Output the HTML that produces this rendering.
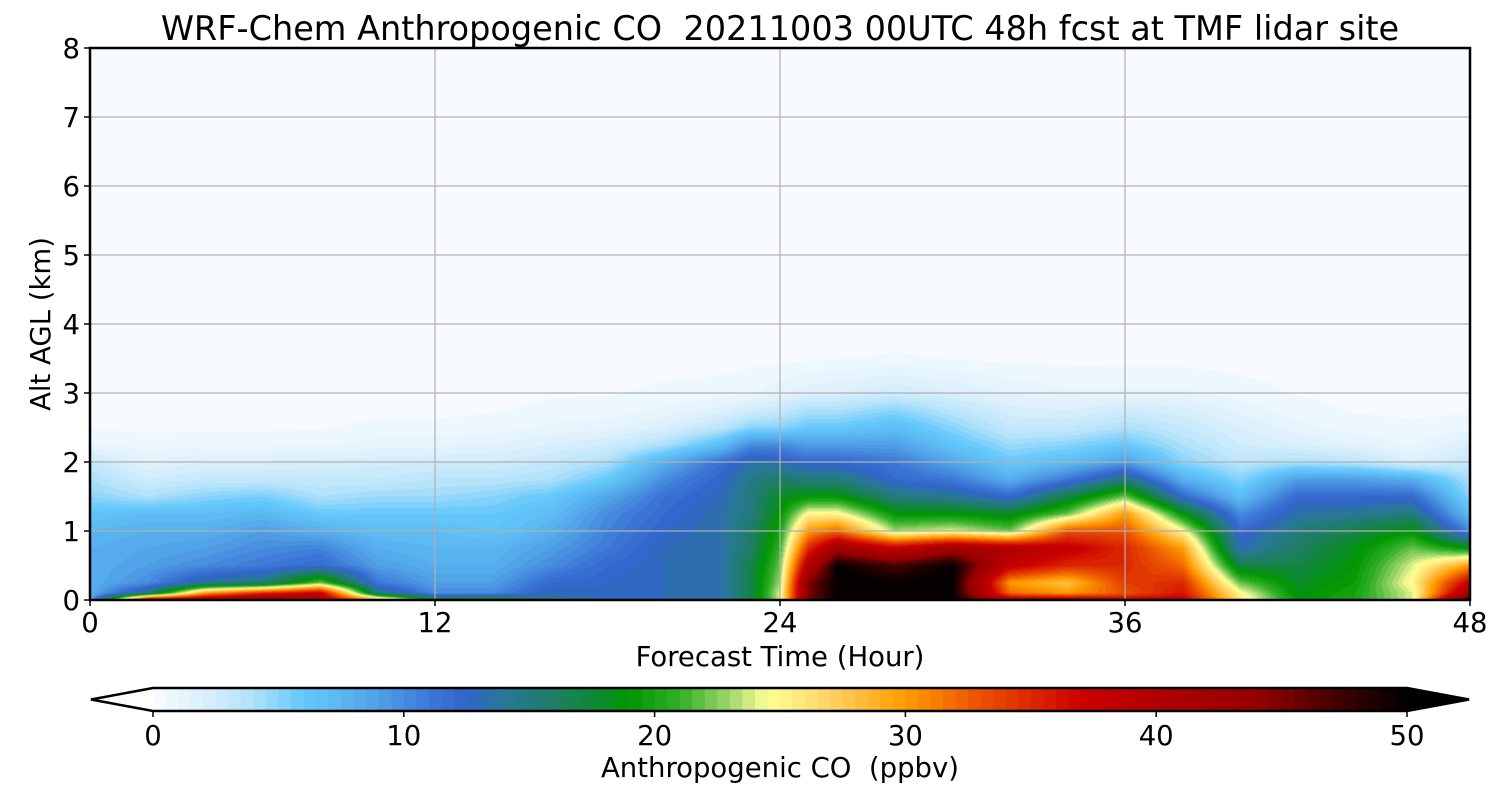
<!DOCTYPE html>
<html><head><meta charset="utf-8">
<style>
html,body{margin:0;padding:0;background:#fff;width:1500px;height:800px;overflow:hidden}
#wrap{position:relative;width:1500px;height:800px;font-family:"DejaVu Sans","Liberation Sans",sans-serif}
#field{position:absolute;left:90px;top:48px}
#svg{position:absolute;left:0;top:0}
text{font-family:"DejaVu Sans","Liberation Sans",sans-serif;fill:#000;white-space:pre}
</style></head>
<body>
<div id="wrap">
<canvas id="field" width="1380" height="552"></canvas>
<svg id="svg" width="1500" height="800">
  <text x="780" y="40" font-size="33.5" text-anchor="middle" xml:space="preserve">WRF-Chem Anthropogenic CO  20211003 00UTC 48h fcst at TMF lidar site</text>
  <g id="grid"></g>
  <rect x="90" y="48" width="1380" height="552" fill="none" stroke="#000" stroke-width="2.5"/>
  <g id="yticks"></g>
  <g id="xticks"></g>
  <text x="0" y="0" font-size="27.5" text-anchor="middle" transform="translate(50,324) rotate(-90)">Alt AGL (km)</text>
  <text x="780" y="666" font-size="27.5" text-anchor="middle">Forecast Time (Hour)</text>
  <g id="cbar"></g>
  <text x="780" y="777" font-size="27.5" text-anchor="middle" xml:space="preserve">Anthropogenic CO  (ppbv)</text>
</svg>
</div>
<script>
const hours = [0,2,4,6,8,10,12,14,16,18,20,22,23,24,25,26,28,30,32,34,36,38,40,42,44,46,48];
const altitudes = [0,0.1,0.25,0.5,0.75,1,1.25,1.5,1.75,2,2.25,2.5,2.75,3,3.5,4];
const coValues = [
[8,8,8,8,8,7.5,6.5,5,4,3,1.0,0.4,0.35,0.3,0.3,0.3],
[40,15,10,9,8.5,8,7,4,2.5,1.5,0.7,0.4,0.35,0.3,0.3,0.3],
[42,30,14,10,9,8,7,5,3,2,0.8,0.4,0.35,0.3,0.3,0.3],
[45,35,15,11,10,9,7.5,5.5,3,2,0.8,0.4,0.35,0.3,0.3,0.3],
[40,38,22,12,10.5,8,6,4,3,2.2,0.9,0.45,0.35,0.3,0.3,0.3],
[30,15,11,9,8,7,6,4.5,3,2.3,1.2,0.6,0.4,0.35,0.3,0.3],
[18,10,9,8,7.5,7,6,4.5,3.5,2.5,1.3,0.6,0.4,0.35,0.3,0.3],
[19,10,9,8,7.5,6.5,6,5,3.5,2.5,1.5,0.7,0.45,0.35,0.3,0.3],
[14,13,12,10,9,8,7,6,4,3,2,1.1,0.6,0.45,0.3,0.3],
[13,12.5,12.5,12,11,10.5,10,8.5,6,4,2.5,1.3,0.7,0.45,0.3,0.3],
[13,13,13,13,13,12.5,12,11.5,10,8,4,2,1.1,0.6,0.3,0.3],
[13.5,13.5,13.5,13.5,13.5,13.5,13.5,13,12.5,11.5,7,3.5,1.7,0.7,0.3,0.3],
[17,17,17,17,16,16,15,15,14.5,13.5,10,5,2.5,0.9,0.35,0.3],
[24,24,23,22,21,20,19,18,16,13,10,5,3,1.3,0.35,0.3],
[45,45,45,40,35,30,25,19,15,12,9,6,4,1.8,0.4,0.3],
[50,50,50,50,42,32,25,19,15,12,9,6,4,2,0.45,0.3],
[50,50,50,47,38,23,19,15,12,11,9,7,5,2.5,0.55,0.3],
[50,50,50,50,42,24,19,14,11,8.5,6.5,5,3.5,2,0.45,0.3],
[40,32,30,38,40,22,18,12,8,6,4.5,3,2.2,1.4,0.35,0.3],
[40,30,28,35,38,33,22,17,11,7,5,3,2,1.1,0.35,0.3],
[38,33,34,35,35,33,30,22,15,9,6,4,2.5,1.1,0.3,0.3],
[38,36,35,32,30,25,19,12,8,5,4,3,2.2,1.1,0.3,0.3],
[26,25,22,17,13,12,10,7,5,3.5,2.5,2,1.3,0.7,0.3,0.3],
[19,18.5,18,17,16,15,13.5,12,9,4,2,1.2,0.7,0.45,0.3,0.3],
[20,20,19.5,19,18.5,17,14,12,9,3.5,1.5,0.7,0.45,0.35,0.3,0.3],
[24,24,25,24,22,19,15,12,8,2,0.9,0.6,0.4,0.35,0.3,0.3],
[50,42,38,30,19,10,7,5,4,3,2,0.8,0.4,0.35,0.3,0.3]
];
const xTicks = [0,12,24,36,48];
const yTicks = [0,1,2,3,4,5,6,7,8];
const cbTicks = [0,10,20,30,40,50];

const PX=90,PY=48,PW=1380,PH=552;
const xScale = h => PX + h/48*PW;
const yScale = a => PY + PH - a/8*PH;
const cbX = v => 153 + v/50*(1407-153);
const NLEV=100, STEP=0.5;

const stops=[[0,[247,251,255]],[2,[220,240,252]],[4,[175,225,250]],[6,[100,200,252]],[7,[95,190,245]],[9,[80,160,230]],[11,[60,120,215]],[12.5,[50,100,200]],[14,[40,120,150]],[16,[30,125,100]],[18,[10,140,40]],[19,[0,150,0]],[21,[50,175,40]],[23,[160,215,110]],[24.5,[255,255,150]],[27,[255,210,100]],[30,[255,155,0]],[33,[235,80,0]],[37,[204,0,0]],[40,[176,0,0]],[44,[150,0,0]],[47,[70,0,0]],[50,[0,0,0]]];
function cmap(v){
  if(v<=stops[0][0])return stops[0][1];
  for(let i=1;i<stops.length;i++){
    if(v<=stops[i][0]){const a=stops[i-1],b=stops[i],t=(v-a[0])/(b[0]-a[0]);
      return [0,1,2].map(k=>Math.round(a[1][k]+(b[1][k]-a[1][k])*t));}
  }
  return stops[stops.length-1][1];
}
const lut=[];for(let i=0;i<NLEV;i++)lut.push(cmap(i*STEP+(i===0?0:STEP/2)));
function level(v){let q=Math.floor(v/STEP);if(q<0)q=0;if(q>NLEV-1)q=NLEV-1;return lut[q];}

function locate(arr,v){
  if(v<=arr[0])return [0,0];
  if(v>=arr[arr.length-1])return [arr.length-2,1];
  for(let i=0;i<arr.length-1;i++){if(v<=arr[i+1])return [i,(v-arr[i])/(arr[i+1]-arr[i])];}
}
const ctx=document.getElementById('field').getContext('2d');
const img=ctx.createImageData(PW,PH);
for(let px=0;px<PW;px++){
  const h=(px+0.5)/PW*48;const [i,tx]=locate(hours,h);
  for(let py=0;py<PH;py++){
    const a=(PH-py-0.5)/PH*8;const [j,ty]=locate(altitudes,a);
    const v00=coValues[i][j],v01=coValues[i][j+1],v10=coValues[i+1][j],v11=coValues[i+1][j+1];
    const v=(v00*(1-ty)+v01*ty)*(1-tx)+(v10*(1-ty)+v11*ty)*tx;
    const c=level(v);const o=(py*PW+px)*4;
    img.data[o]=c[0];img.data[o+1]=c[1];img.data[o+2]=c[2];img.data[o+3]=255;
  }
}
ctx.putImageData(img,0,0);

const NS='http://www.w3.org/2000/svg';
function mk(tag,attrs,parent){const e=document.createElementNS(NS,tag);for(const k in attrs)e.setAttribute(k,attrs[k]);parent.appendChild(e);return e;}
const grid=document.getElementById('grid');
xTicks.forEach(t=>{if(t>0&&t<48){const l=mk('line',{x1:xScale(t),x2:xScale(t),y1:PY,y2:PY+PH,stroke:'#b0b0b0','stroke-width':1.2},grid);

}});
yTicks.forEach(t=>{if(t>0&&t<8){const l=mk('line',{x1:PX,x2:PX+PW,y1:yScale(t),y2:yScale(t),stroke:'#b0b0b0','stroke-width':1.2},grid);

}});
const yt=document.getElementById('yticks');
yTicks.forEach(t=>{mk('line',{x1:PX-6,x2:PX,y1:yScale(t),y2:yScale(t),stroke:'#000','stroke-width':1.5},yt);
const tx=mk('text',{x:PX-10,y:yScale(t)+10,'font-size':27.5,'text-anchor':'end'},yt);tx.textContent=t;

});
const xt=document.getElementById('xticks');
xTicks.forEach(t=>{mk('line',{x1:xScale(t),x2:xScale(t),y1:PY+PH,y2:PY+PH+6,stroke:'#000','stroke-width':1.5},xt);
const tx=mk('text',{x:xScale(t),y:632,'font-size':27.5,'text-anchor':'middle'},xt);tx.textContent=t;

});
const cb=document.getElementById('cbar');
for(let i=0;i<NLEV;i++){const c=lut[i];const r=mk('rect',{x:cbX(i*STEP),y:688,width:cbX(STEP)-cbX(0)+0.6,height:23,fill:`rgb(${c[0]},${c[1]},${c[2]})`},cb);

}
const lt=mk('polygon',{points:`${cbX(0)},688 ${cbX(0)},711 91,699.5`,fill:'#fff',stroke:'none'},cb);


const rt=mk('polygon',{points:`${cbX(50)},688 ${cbX(50)},711 1469,699.5`,fill:'#000'},cb);


const ol=mk('polygon',{points:`91,699.5 ${cbX(0)},688 ${cbX(50)},688 1469,699.5 ${cbX(50)},711 ${cbX(0)},711`,fill:'none',stroke:'#000','stroke-width':2.5},cb);


cbTicks.forEach(t=>{mk('line',{x1:cbX(t),x2:cbX(t),y1:711,y2:717,stroke:'#000','stroke-width':1.5},cb);
const tx=mk('text',{x:cbX(t),y:745,'font-size':27.5,'text-anchor':'middle'},cb);tx.textContent=t;

});
</script>
</body></html>
